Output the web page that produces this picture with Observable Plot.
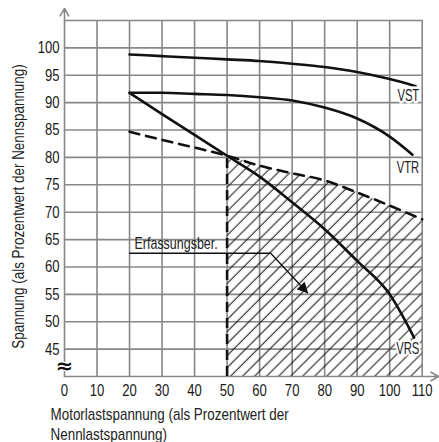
<!DOCTYPE html>
<html><head><meta charset="utf-8">
<script src="https://cdn.jsdelivr.net/npm/d3@7"></script>
<script src="https://cdn.jsdelivr.net/npm/@observablehq/plot@0.6"></script>
<style>body{margin:0;background:#fff} svg{display:block}</style>
</head><body><div id="chart"></div>
<script>
// --- data ---
const xTicks = [0, 10, 20, 30, 40, 50, 60, 70, 80, 90, 100, 110];
const yTicks = [45, 50, 55, 60, 65, 70, 75, 80, 85, 90, 95, 100];
const gridX = [10, 20, 30, 40, 50, 60, 70, 80, 90, 100, 110];
const gridY = [45, 50, 55, 60, 65, 70, 75, 80, 85, 90, 95, 100, 105];

const vstX = [20, 30, 40, 50, 60, 70, 80, 90, 100, 108];
const vstY = [98.8, 98.5, 98.2, 97.9, 97.6, 97.1, 96.5, 95.6, 94.3, 93.0];
const vtrX = [20, 30, 40, 50, 60, 70, 80, 90, 100, 107];
const vtrY = [91.8, 91.8, 91.6, 91.4, 91.0, 90.4, 89.1, 87.1, 83.8, 80.5];
const vrsX = [20, 30, 40, 50, 60, 70, 80, 90, 100, 107.5];
const vrsY = [91.8, 87.9, 84.1, 80.3, 76.5, 71.8, 66.9, 61.1, 55.0, 47.1];
const limX = [20, 30, 40, 50, 60, 70, 80, 90, 100, 110];
const limY = [84.7, 83.2, 81.8, 80.3, 78.5, 77.1, 75.8, 73.6, 71.2, 68.7];

const curveNames = ["VST", "VTR", "VRS"];
const curveLabelY = [91.3, 78.0, 45.1];

const annotText = "Erfassungsber.";
const annotX = [20, 63.4, 74.7];
const annotY = [62.5, 62.5, 55.3];

const breakSymbol = "≈";
const breakY = 41.8;

const xLabel = "Motorlastspannung (als Prozentwert der\nNennlastspannung)";
const yLabel = "Spannung (als Prozentwert der Nennspannung)";

const axisArrows = [
  {x1: 0, y1: 40, x2: 0, y2: 107.2},
  {x1: 0, y1: 40, x2: 115, y2: 40}
];

// --- build tables ---
const pts = (xs, ys) => xs.map((x, i) => ({x, y: ys[i]}));
const vst = pts(vstX, vstY), vtr = pts(vtrX, vtrY), vrs = pts(vrsX, vrsY);
const lim = pts(limX, limY);
const hatchArea = lim.filter(d => d.x >= 50);
const annot = pts(annotX, annotY);

const GRID = "#878787";
const FONT = "'Liberation Sans', Arial, sans-serif";

const plot = Plot.plot({
  width: 439, height: 442,
  marginLeft: 64, marginRight: 17.3, marginTop: 20, marginBottom: 66,
  x: {domain: [0, 110], axis: null},
  y: {domain: [40, 105], axis: null},
  style: {fontFamily: FONT, background: "#fff", overflow: "visible"},
  marks: [
    Plot.ruleX(gridX, {stroke: GRID, strokeWidth: 1.6}),
    Plot.ruleY(gridY, {stroke: GRID, strokeWidth: 1.6}),
    Plot.areaY(hatchArea, {x: "x", y1: 40, y2: "y", fill: "url(#hatch)", curve: "monotone-x"}),
    Plot.arrow(axisArrows, {x1: "x1", y1: "y1", x2: "x2", y2: "y2", stroke: GRID, strokeWidth: 1.6, headLength: 8}),
    Plot.ruleX([50], {y1: 40, y2: limY[3], stroke: "#111", strokeWidth: 2.6, strokeDasharray: "10,6"}),
    Plot.line(lim, {x: "x", y: "y", stroke: "#111", strokeWidth: 2.6, strokeDasharray: "10,7", curve: "monotone-x"}),
    Plot.line(vst, {x: "x", y: "y", stroke: "#111", strokeWidth: 2.6, curve: "monotone-x"}),
    Plot.line(vtr, {x: "x", y: "y", stroke: "#111", strokeWidth: 2.6, curve: "monotone-x"}),
    Plot.line(vrs, {x: "x", y: "y", stroke: "#111", strokeWidth: 2.6, curve: "monotone-x"}),
    Plot.line(annot, {x: "x", y: "y", stroke: "#101010", strokeWidth: 1.3}),
    Plot.text([annotText], {x: annotX[0], y: annotY[0], text: d => d, textAnchor: "start", lineAnchor: "middle", dx: 5, dy: -9, fontSize: 16, fill: "#222"}),
    Plot.text(curveNames, {x: 110, y: (d, i) => curveLabelY[i], text: d => d, textAnchor: "end", lineAnchor: "middle", dx: -3, fontSize: 16, fill: "#222", stroke: "#fff", strokeWidth: 5, paintOrder: "stroke"}),
    Plot.text([breakSymbol], {x: 0, y: breakY, text: d => d, fontSize: 21, fontWeight: "bold", fill: "#111", stroke: "#fff", strokeWidth: 2, paintOrder: "stroke", fontFamily: "DejaVu Sans"}),
    Plot.text(xTicks, {x: d => d, frameAnchor: "bottom", lineAnchor: "middle", textAnchor: "middle", dy: 14, text: d => String(d), fontSize: 17, fill: "#1a1a1a"}),
    Plot.text(yTicks, {y: d => d, frameAnchor: "left", textAnchor: "end", lineAnchor: "middle", dx: -5, text: d => String(d), fontSize: 17, fill: "#1a1a1a"}),
    Plot.text([xLabel], {frameAnchor: "bottom-left", textAnchor: "start", lineAnchor: "top", dx: -14, dy: 29, lineHeight: 1.27, text: d => d, fontSize: 16, fill: "#222"}),
    Plot.text([yLabel], {frameAnchor: "left", textAnchor: "middle", lineAnchor: "middle", rotate: -90, dx: -46, dy: 8, text: d => d, fontSize: 16, fill: "#222"})
  ]
});

const svg = d3.select(plot);
const defs = svg.insert("defs", ":first-child");
const pat = defs.append("pattern").attr("id", "hatch").attr("patternUnits", "userSpaceOnUse")
  .attr("width", 8.5).attr("height", 8.5).attr("patternTransform", "rotate(45)");
pat.append("line").attr("x1", 4).attr("x2", 4).attr("y1", 0).attr("y2", 8.5).attr("stroke", "#111").attr("stroke-width", 1);
defs.append("marker").attr("id", "ahead").attr("viewBox", "0 0 10 10").attr("refX", 9).attr("refY", 5)
  .attr("markerWidth", 15).attr("markerHeight", 11).attr("markerUnits", "userSpaceOnUse").attr("orient", "auto")
  .append("path").attr("d", "M0,0 L10,5 L0,10 z").attr("fill", "#111");
svg.selectAll('[stroke="#101010"]').each(function() {
  const el = d3.select(this);
  (this.tagName === "path" ? el : el.selectAll("path")).attr("marker-end", "url(#ahead)");
});
// condense the typeface horizontally (text stays real text)
const tickStrings = new Set([...xTicks, ...yTicks].map(String));
function squeezeFor(s) {
  if (s === breakSymbol) return null;
  if (tickStrings.has(s)) return 0.77;
  if (curveNames.includes(s)) return 0.7;
  if (s === annotText) return 0.78;
  return 0.84; // axis labels
}
svg.selectAll("text").each(function() {
  const k = squeezeFor(this.textContent);
  if (!k) return;
  const t = this.getAttribute("transform") || "";
  this.setAttribute("transform", (t + ` scale(${k},1)`).trim());
});
document.getElementById("chart").appendChild(plot);
</script>
</body></html>
